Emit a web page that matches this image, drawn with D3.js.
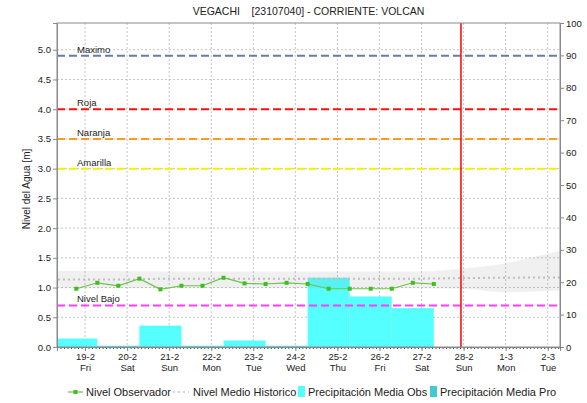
<!DOCTYPE html>
<html>
<head>
<meta charset="utf-8">
<script src="https://cdn.jsdelivr.net/npm/d3@7"></script>
<style>
  body { margin: 0; background: #fff; }
  text { font-family: "Liberation Sans", Arial, sans-serif; fill: #222; }
</style>
</head>
<body>
<script>
// ---- datos ----
const titulo = "VEGACHI    [23107040] - CORRIENTE: VOLCAN";
const ejeIzqTitulo = "Nivel del Agua [m]";

// nivel observado (m), lecturas 7:00 y 19:00
const nivelFechas = [
  "2021-02-18 19:00", "2021-02-19 07:00", "2021-02-19 19:00", "2021-02-20 07:00",
  "2021-02-20 19:00", "2021-02-21 07:00", "2021-02-21 19:00", "2021-02-22 07:00",
  "2021-02-22 19:00", "2021-02-23 07:00", "2021-02-23 19:00", "2021-02-24 07:00",
  "2021-02-24 19:00", "2021-02-25 07:00", "2021-02-25 19:00", "2021-02-26 07:00",
  "2021-02-26 19:00", "2021-02-27 07:00"
];
const nivelValores = [0.98, 1.08, 1.03, 1.15, 0.97, 1.03, 1.03, 1.165, 1.07, 1.06,
                      1.08, 1.06, 0.98, 0.98, 0.98, 0.98, 1.08, 1.06];

// precipitacion media observada (mm), acumulado diario desde las 7:00
const lluviaFechas = [
  "2021-02-18 07:00", "2021-02-19 07:00", "2021-02-20 07:00", "2021-02-21 07:00",
  "2021-02-22 07:00", "2021-02-23 07:00", "2021-02-24 07:00", "2021-02-25 07:00",
  "2021-02-26 07:00"
];
const lluviaValores = [2.6, 0.4, 6.6, 0.4, 2.0, 0.4, 21.4, 15.6, 12.0];

// nivel medio historico: banda y media
const historicoFechas = [
  "2021-02-18 00:00", "2021-02-19 00:00", "2021-02-20 00:00", "2021-02-21 00:00",
  "2021-02-22 00:00", "2021-02-23 00:00", "2021-02-24 00:00", "2021-02-25 00:00",
  "2021-02-26 00:00", "2021-02-27 00:00", "2021-02-28 00:00", "2021-03-01 00:00",
  "2021-03-02 00:00", "2021-03-03 00:00"
];
const historicoMin   = [0.99, 0.99, 0.99, 0.99, 0.99, 0.99, 0.99, 0.99, 0.99, 0.99, 0.98, 0.92, 0.94, 0.98];
const historicoMax   = [1.28, 1.28, 1.28, 1.27, 1.27, 1.27, 1.27, 1.27, 1.27, 1.27, 1.32, 1.41, 1.57, 1.72];
const historicoMedia = [1.135, 1.135, 1.135, 1.15, 1.15, 1.15, 1.15, 1.15, 1.15, 1.15, 1.16, 1.165, 1.17, 1.17];

// umbrales
const umbralNombres = ["Maximo", "Roja", "Naranja", "Amarilla", "Nivel Bajo"];
const umbralValores = [4.9, 4.0, 3.5, 3.0, 0.7];

const fechaActual = "2021-02-27 22:30";
const rangoFechas = ["2021-02-18 08:00", "2021-03-02 07:00"];
const nivelTicks = [0, 0.5, 1.0, 1.5, 2.0, 2.5, 3.0, 3.5, 4.0, 4.5, 5.0];
const lluviaTicks = [0, 10, 20, 30, 40, 50, 60, 70, 80, 90, 100];
const leyenda = ["Nivel Observador", "Nivel Medio Historico", "Precipitación Media Obs", "Precipitación Media Pro"];

// ---- estilos ----
const umbralColores = {
  "Maximo": "#6b7aa6", "Roja": "#ff1010", "Naranja": "#ff9a1a",
  "Amarilla": "#f6f000", "Nivel Bajo": "#ff3cff"
};
const cNivel = "#6cc44a", cMarca = "#3fbf1f";
const cLluvia = "#55ffff", cLluviaPro = "#40cccc";
const cGrid = "#c6c6c6";

// ---- grafico ----
const W = 587, H = 403;
const margin = { top: 23, right: 27, bottom: 56, left: 57 };
const w = W - margin.left - margin.right;
const h = H - margin.top - margin.bottom;

const parse = d3.timeParse("%Y-%m-%d %H:%M");

const nivel = nivelFechas.map((f, i) => ({ t: parse(f), v: nivelValores[i] }));
const lluvia = lluviaFechas.map((f, i) => ({ t: parse(f), v: lluviaValores[i] }));
const historico = historicoFechas.map((f, i) => ({
  t: parse(f), lo: historicoMin[i], hi: historicoMax[i], med: historicoMedia[i]
}));

const x = d3.scaleTime().domain(rangoFechas.map(parse)).range([0, w]);
const y = d3.scaleLinear().domain([0, 5.45]).range([h, 0]);
const y2 = d3.scaleLinear().domain([0, 100]).range([h, 0]);

const svg = d3.select("body").append("svg")
  .attr("width", W).attr("height", H);

svg.append("text")
  .attr("x", margin.left + w / 2).attr("y", 15)
  .attr("text-anchor", "middle")
  .style("font-size", "10.5px")
  .style("white-space", "pre")
  .text(titulo);

svg.append("text")
  .attr("transform", `translate(30,${margin.top + h / 2 + 4}) rotate(-90)`)
  .attr("text-anchor", "middle")
  .style("font-size", "10px")
  .text(ejeIzqTitulo);

svg.append("defs").append("clipPath").attr("id", "plot")
  .append("rect").attr("width", w).attr("height", h);

const g = svg.append("g").attr("transform", `translate(${margin.left},${margin.top})`);
const area = g.append("g").attr("clip-path", "url(#plot)");

const dias = d3.timeDay.range(d3.timeDay.ceil(x.domain()[0]), x.domain()[1]);

// rejilla
area.append("g").selectAll("line").data(dias).join("line")
  .attr("x1", d => x(d)).attr("x2", d => x(d))
  .attr("y1", 0).attr("y2", h)
  .attr("stroke", cGrid).attr("stroke-dasharray", "2,2");
area.append("g").selectAll("line").data(nivelTicks.slice(1)).join("line")
  .attr("x1", 0).attr("x2", w)
  .attr("y1", d => y(d)).attr("y2", d => y(d))
  .attr("stroke", cGrid).attr("stroke-dasharray", "2,2");

// barras de precipitacion
area.append("g").selectAll("rect").data(lluvia).join("rect")
  .attr("x", d => x(d.t))
  .attr("width", d => x(d3.timeDay.offset(d.t, 1)) - x(d.t))
  .attr("y", d => y2(d.v))
  .attr("height", d => h - y2(d.v))
  .attr("fill", cLluvia);

// banda historica
area.append("path").datum(historico)
  .attr("d", d3.area().curve(d3.curveMonotoneX)
    .x(d => x(d.t)).y0(d => y(d.lo)).y1(d => y(d.hi)))
  .attr("fill", "#7a7a7a").attr("fill-opacity", 0.11);

// umbrales
const umbrales = umbralNombres.map((n, i) => ({ n, v: umbralValores[i] }));
area.append("g").selectAll("line").data(umbrales).join("line")
  .attr("x1", 0).attr("x2", w)
  .attr("y1", d => y(d.v)).attr("y2", d => y(d.v))
  .attr("stroke", d => umbralColores[d.n])
  .attr("stroke-width", 2)
  .attr("stroke-dasharray", "8,4");
g.append("g").selectAll("text").data(umbrales).join("text")
  .attr("x", 20).attr("y", d => y(d.v) - 3)
  .style("font-size", "9.5px")
  .text(d => d.n);

// linea de fecha actual
area.append("line")
  .attr("x1", x(parse(fechaActual))).attr("x2", x(parse(fechaActual)))
  .attr("y1", 0).attr("y2", h)
  .attr("stroke", "#ff0000").attr("stroke-width", 1.5);

// media historica
area.append("path").datum(historico)
  .attr("d", d3.line().curve(d3.curveMonotoneX).x(d => x(d.t)).y(d => y(d.med)))
  .attr("fill", "none").attr("stroke", "#bdbdbd")
  .attr("stroke-width", 2).attr("stroke-dasharray", "2,3");

// nivel observado
area.append("path").datum(nivel)
  .attr("d", d3.line().x(d => x(d.t)).y(d => y(d.v)))
  .attr("fill", "none").attr("stroke", cNivel).attr("stroke-width", 1.2);
area.append("g").selectAll("rect").data(nivel).join("rect")
  .attr("x", d => x(d.t) - 2).attr("y", d => y(d.v) - 2)
  .attr("width", 4).attr("height", 4)
  .attr("fill", cMarca);

// marco
g.append("rect").attr("width", w).attr("height", h)
  .attr("fill", "none").attr("stroke", "#8a8a8a");

// ejes
const ejeIzq = g.append("g")
  .call(d3.axisLeft(y).tickValues(nivelTicks).tickFormat(d3.format(".1f")).tickSize(4).tickPadding(2));
const ejeDer = g.append("g").attr("transform", `translate(${w},0)`)
  .call(d3.axisRight(y2).tickValues(lluviaTicks).tickSize(4).tickPadding(2));
// marcas horarias
g.append("g").attr("transform", `translate(0,${h})`)
  .call(d3.axisBottom(x).ticks(d3.timeHour.every(2)).tickSize(2).tickFormat(""))
  .call(a => a.selectAll("line").attr("stroke", "#444"));
const ejeX = g.append("g").attr("transform", `translate(0,${h})`)
  .call(d3.axisBottom(x).tickValues(dias).tickSize(4).tickFormat(""));
ejeX.selectAll(".tick").append("text")
  .attr("y", 13).attr("text-anchor", "middle")
  .text(d3.timeFormat("%-d-%-m"));
ejeX.selectAll(".tick").append("text")
  .attr("y", 24).attr("text-anchor", "middle")
  .text(d3.timeFormat("%a"));

[ejeIzq, ejeDer, ejeX].forEach(a => {
  a.select(".domain").attr("stroke", "#8a8a8a");
  a.selectAll(".tick line").attr("stroke", "#8a8a8a");
  a.selectAll("text").style("font-size", "9.5px").style("font-family", "Liberation Sans, Arial, sans-serif").attr("fill", "#222");
});

// leyenda
const ly = 392;
const lg = svg.append("g");
lg.append("line").attr("x1", 68).attr("x2", 83).attr("y1", ly).attr("y2", ly)
  .attr("stroke", cNivel).attr("stroke-width", 1.2);
lg.append("rect").attr("x", 73.5).attr("y", ly - 2).attr("width", 4).attr("height", 4).attr("fill", cMarca);
lg.append("line").attr("x1", 173).attr("x2", 189).attr("y1", ly).attr("y2", ly)
  .attr("stroke", "#c8c8c8").attr("stroke-width", 1.5).attr("stroke-dasharray", "2,3");
lg.append("rect").attr("x", 298).attr("y", ly - 6).attr("width", 7).attr("height", 11).attr("fill", cLluvia);
lg.append("rect").attr("x", 430).attr("y", ly - 6).attr("width", 7).attr("height", 11).attr("fill", cLluviaPro);
const lx = [86, 193, 308, 440];
lg.selectAll("text.ley").data(leyenda).join("text")
  .attr("class", "ley")
  .attr("x", (d, i) => lx[i]).attr("y", ly + 4)
  .style("font-size", "11px")
  .text(d => d);
</script>
</body>
</html>
